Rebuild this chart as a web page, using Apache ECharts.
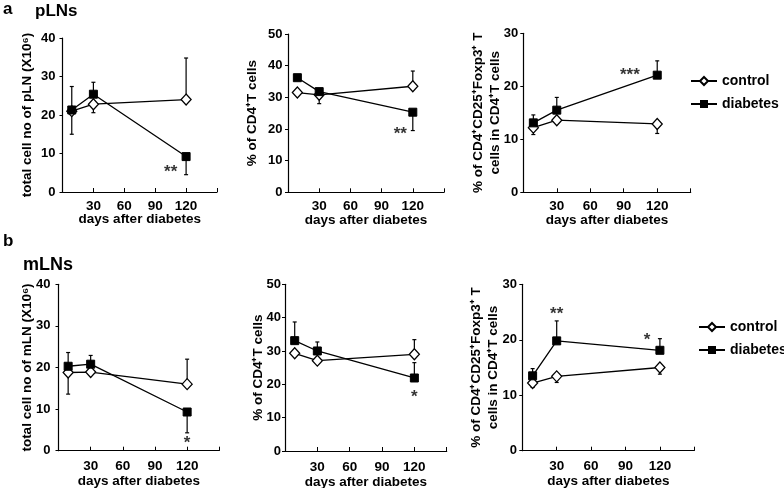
<!DOCTYPE html>
<html><head><meta charset="utf-8">
<script src="https://cdn.jsdelivr.net/npm/echarts@6/dist/echarts.min.js"></script>
<style>html,body{margin:0;padding:0;background:#fff}#c{width:784px;height:488px}</style>
</head><body><div id="c"></div>
<script>
// ---------------- data ----------------
const days = [9, 30, 120];
const xTickLabels = [30, 60, 90, 120];

// a: pLNs
const aTotalControl = [21.0, 22.8, 24.0];
const aTotalControlErr = [15.0, 20.6, 34.8];
const aTotalDiabetes = [21.3, 25.4, 9.2];
const aTotalDiabetesErr = [27.4, 28.5, 4.5];
const aTotalStars = [[105, 6.2, '**']];

const aCD4Control = [31.5, 30.8, 33.5];
const aCD4ControlErr = [null, 28.0, 38.3];
const aCD4Diabetes = [36.2, 31.8, 25.3];
const aCD4DiabetesErr = [null, null, 19.5];
const aCD4Stars = [[108, 19.7, '**']];

const aTregControl = [12.2, 13.6, 12.9];
const aTregControlErr = [10.9, null, 11.1];
const aTregDiabetes = [13.1, 15.5, 22.1];
const aTregDiabetesErr = [14.6, 17.9, 24.8];
const aTregStars = [[95.5, 22.9, '***']];

// b: mLNs
const bTotalControl = [18.8, 18.9, 16.0];
const bTotalControlErr = [13.6, null, 22.0];
const bTotalDiabetes = [20.3, 20.8, 9.3];
const bTotalDiabetesErr = [23.6, 22.9, 4.3];
const bTotalStars = [[120, 2.8, '*']];

const bCD4Control = [29.3, 27.1, 29.0];
const bCD4ControlErr = [null, null, 33.4];
const bCD4Diabetes = [33.1, 30.0, 21.9];
const bCD4DiabetesErr = [38.7, 32.7, 26.5];
const bCD4Stars = [[120, 17.3, '*']];

const bTregControl = [12.2, 13.4, 15.0];
const bTregControlErr = [11.4, 12.3, 13.8];
const bTregDiabetes = [13.5, 19.8, 18.1];
const bTregDiabetesErr = [14.8, 23.4, 20.2];
const bTregStars = [[30, 25.3, '**'], [108.7, 20.6, '*']];

const yMaxes = [40, 50, 30, 40, 50, 30];
const yNames = [
  'total cell no of pLN (X10\u2076)',
  '% of CD4\u207AT cells',
  '% of CD4\u207ACD25\u207AFoxp3\u207A T\ncells in CD4\u207AT cells',
  'total cell no of mLN (X10\u2076)',
  '% of CD4\u207AT cells',
  '% of CD4\u207ACD25\u207AFoxp3\u207A T\ncells in CD4\u207AT cells'
];
const panels = [
  [aTotalControl, aTotalControlErr, aTotalDiabetes, aTotalDiabetesErr, aTotalStars],
  [aCD4Control, aCD4ControlErr, aCD4Diabetes, aCD4DiabetesErr, aCD4Stars],
  [aTregControl, aTregControlErr, aTregDiabetes, aTregDiabetesErr, aTregStars],
  [bTotalControl, bTotalControlErr, bTotalDiabetes, bTotalDiabetesErr, bTotalStars],
  [bCD4Control, bCD4ControlErr, bCD4Diabetes, bCD4DiabetesErr, bCD4Stars],
  [bTregControl, bTregControlErr, bTregDiabetes, bTregDiabetesErr, bTregStars]
];

// ---------------- layout ----------------
const FONT = '"Liberation Sans", Arial, sans-serif';
const grids = [
  {left: 62.5, top: 38, width: 154.5, height: 154},
  {left: 288, top: 34, width: 156, height: 158.3},
  {left: 523.3, top: 33.3, width: 167.4, height: 159},
  {left: 58.5, top: 284.3, width: 160.8, height: 166.4},
  {left: 285, top: 284.3, width: 161.7, height: 166.7},
  {left: 522.3, top: 284.3, width: 172, height: 166.4}
].map(g => Object.assign({outerBoundsMode: 'none', containLabel: false}, g));
const yNameGaps = [27, 27.5, 19.8, 23, 18.5, 20.8];
const yLabelMargins = [7, 5.5, 5, 8, 4, 5.4];
const xLabelMargins = [7, 7, 7, 9, 9, 9];
const xNameGaps = [20.5, 20.5, 20.5, 24, 24, 24];

function errRender(params, api) {
  const x = api.value(0), y = api.value(1), e = api.value(2);
  const p0 = api.coord([x, y]);
  const p1 = api.coord([x, e]);
  const st = {stroke: '#000', lineWidth: 1.2};
  return {type: 'group', children: [
    {type: 'line', shape: {x1: p0[0], y1: p0[1], x2: p1[0], y2: p1[1]}, style: st},
    {type: 'line', shape: {x1: p1[0] - 2, y1: p1[1], x2: p1[0] + 2, y2: p1[1]}, style: st}
  ]};
}

const xAxes = [], yAxes = [], series = [];
grids.forEach((g, i) => {
  xAxes.push({
    type: 'value', gridIndex: i, min: 0, max: 150, interval: 30,
    axisLine: {lineStyle: {color: '#000', width: 1.2}},
    axisTick: {inside: true, length: 4, lineStyle: {color: '#000'}},
    splitLine: {show: false},
    axisLabel: {color: '#000', fontFamily: FONT, fontWeight: 'bold', fontSize: 13.5, margin: xLabelMargins[i],
      formatter: v => xTickLabels.indexOf(v) >= 0 ? String(v) : ''},
    name: 'days after diabetes', nameLocation: 'middle', nameGap: xNameGaps[i], nameMoveOverlap: false,
    nameTextStyle: {color: '#000', fontFamily: FONT, fontWeight: 'bold', fontSize: 13.5}
  });
  yAxes.push({
    type: 'value', gridIndex: i, min: 0, max: yMaxes[i], interval: 10,
    axisLine: {show: true, lineStyle: {color: '#000', width: 1.2}},
    axisTick: {show: true, length: 3, lineStyle: {color: '#000'}},
    splitLine: {show: false},
    axisLabel: {color: '#000', fontFamily: FONT, fontWeight: 'bold', fontSize: 13, margin: yLabelMargins[i]},
    name: yNames[i], nameLocation: 'middle', nameGap: yNameGaps[i], nameMoveOverlap: false,
    nameTextStyle: {color: '#000', fontFamily: FONT, fontWeight: 'bold', fontSize: 13.5, lineHeight: 17}
  });
  const [c, ce, d, de, stars] = panels[i];
  const errData = (vals, errs) => days.map((x, k) => errs[k] == null ? null : [x, vals[k], errs[k]]).filter(v => v);
  series.push({
    type: 'custom', xAxisIndex: i, yAxisIndex: i, renderItem: errRender, z: 1,
    data: errData(c, ce).concat(errData(d, de)), silent: true
  });
  series.push({
    name: 'control', type: 'line', xAxisIndex: i, yAxisIndex: i, z: 3,
    data: days.map((x, k) => [x, c[k]]),
    symbol: 'diamond', symbolSize: [10, 11], showAllSymbol: true,
    lineStyle: {color: '#000', width: 1.3},
    itemStyle: {color: '#fff', borderColor: '#000', borderWidth: 1.3}
  });
  series.push({
    name: 'diabetes', type: 'line', xAxisIndex: i, yAxisIndex: i, z: 4,
    data: days.map((x, k) => [x, d[k]]),
    symbol: 'rect', symbolSize: 8,
    lineStyle: {color: '#000', width: 1.3},
    itemStyle: {color: '#000', borderColor: '#000'}
  });
  series.push({
    type: 'scatter', xAxisIndex: i, yAxisIndex: i, z: 5, symbolSize: 0, silent: true,
    data: stars.map(s => ({value: [s[0], s[1]], label: {formatter: s[2]}})),
    label: {show: true, position: 'inside', offset: [0, 4], color: '#000',
      fontFamily: FONT, fontWeight: 'bold', fontSize: 17}
  });
});

const legendCommon = {
  orient: 'vertical', itemWidth: 26, itemHeight: 10, itemGap: 9, padding: 0,
  data: ['control', 'diabetes'],
  textStyle: {color: '#000', fontFamily: FONT, fontWeight: 'bold', fontSize: 14},
  selectedMode: false
};

const titleStyle = {fontFamily: FONT, fontWeight: 'bold', fontSize: 17, color: '#000'};
const option = {
  animation: false,
  backgroundColor: '#fff',
  title: [
    {text: 'a', left: 3, top: 1, padding: 0, textStyle: titleStyle},
    {text: 'pLNs', left: 35, top: 3, padding: 0, textStyle: titleStyle},
    {text: 'b', left: 3, top: 233, padding: 0, textStyle: titleStyle},
    {text: 'mLNs', left: 23, top: 256, padding: 0, textStyle: Object.assign({}, titleStyle, {fontSize: 18})}
  ],
  legend: [
    Object.assign({left: 690, top: 74}, legendCommon),
    Object.assign({left: 698, top: 320}, legendCommon)
  ],
  grid: grids,
  xAxis: xAxes,
  yAxis: yAxes,
  series: series
};

const chart = echarts.init(document.getElementById('c'), null, {renderer: 'canvas'});
chart.setOption(option);
</script>
</body></html>
